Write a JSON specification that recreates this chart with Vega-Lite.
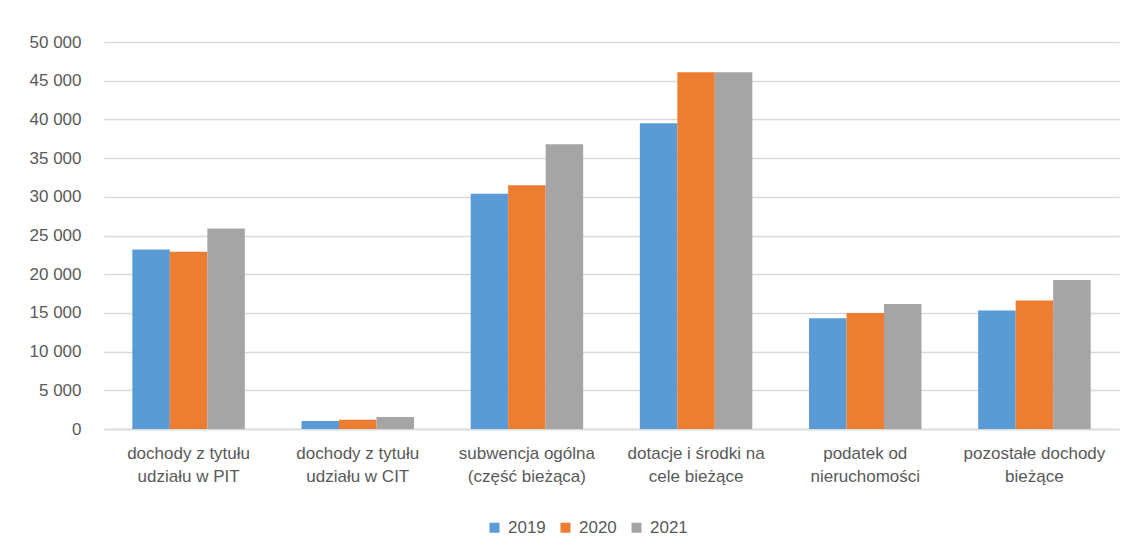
{
  "$schema": "https://vega.github.io/schema/vega-lite/v6.json",
  "width": 1015,
  "height": 387,
  "autosize": {"type": "none"},
  "padding": {"left": 104, "top": 42, "right": 16, "bottom": 127},
  "background": "white",
  "data": {
    "values": [
      {"kategoria": "dochody z tytułu|udziału w PIT", "rok": "2019", "wartosc": 23200},
      {"kategoria": "dochody z tytułu|udziału w PIT", "rok": "2020", "wartosc": 22900},
      {"kategoria": "dochody z tytułu|udziału w PIT", "rok": "2021", "wartosc": 25900},
      {"kategoria": "dochody z tytułu|udziału w CIT", "rok": "2019", "wartosc": 1030},
      {"kategoria": "dochody z tytułu|udziału w CIT", "rok": "2020", "wartosc": 1200},
      {"kategoria": "dochody z tytułu|udziału w CIT", "rok": "2021", "wartosc": 1550},
      {"kategoria": "subwencja ogólna|(część bieżąca)", "rok": "2019", "wartosc": 30400},
      {"kategoria": "subwencja ogólna|(część bieżąca)", "rok": "2020", "wartosc": 31500},
      {"kategoria": "subwencja ogólna|(część bieżąca)", "rok": "2021", "wartosc": 36800},
      {"kategoria": "dotacje i środki na|cele bieżące", "rok": "2019", "wartosc": 39500},
      {"kategoria": "dotacje i środki na|cele bieżące", "rok": "2020", "wartosc": 46100},
      {"kategoria": "dotacje i środki na|cele bieżące", "rok": "2021", "wartosc": 46100},
      {"kategoria": "podatek od|nieruchomości", "rok": "2019", "wartosc": 14300},
      {"kategoria": "podatek od|nieruchomości", "rok": "2020", "wartosc": 15000},
      {"kategoria": "podatek od|nieruchomości", "rok": "2021", "wartosc": 16150},
      {"kategoria": "pozostałe dochody|bieżące", "rok": "2019", "wartosc": 15300},
      {"kategoria": "pozostałe dochody|bieżące", "rok": "2020", "wartosc": 16600},
      {"kategoria": "pozostałe dochody|bieżące", "rok": "2021", "wartosc": 19250}
    ]
  },
  "mark": {"type": "bar"},
  "encoding": {
    "x": {
      "field": "kategoria",
      "type": "nominal",
      "sort": null,
      "scale": {"paddingInner": 0.335, "paddingOuter": 0.1675},
      "axis": {
        "title": null,
        "labelAngle": 0,
        "labelExpr": "split(datum.label, '|')",
        "labelFont": "Liberation Sans, Arial, sans-serif",
        "labelFontSize": 17,
        "labelColor": "#595959",
        "labelLineHeight": 23,
        "labelPadding": 16,
        "labelBaseline": "top",
        "ticks": false,
        "domainColor": "#d9d9d9",
        "domainWidth": 1.5,
        "labelLimit": 300
      }
    },
    "xOffset": {"field": "rok", "type": "nominal", "scale": {"paddingInner": 0, "paddingOuter": 0}},
    "y": {
      "field": "wartosc",
      "type": "quantitative",
      "scale": {"domain": [0, 50000], "nice": false},
      "axis": {
        "title": null,
        "values": [0, 5000, 10000, 15000, 20000, 25000, 30000, 35000, 40000, 45000, 50000],
        "labelExpr": "replace(format(datum.value, ','), ',', ' ')",
        "labelFont": "Liberation Sans, Arial, sans-serif",
        "labelFontSize": 17,
        "labelColor": "#595959",
        "labelPadding": 23,
        "domain": false,
        "ticks": false,
        "gridColor": "#d9d9d9",
        "gridWidth": 1.5
      }
    },
    "color": {
      "field": "rok",
      "type": "nominal",
      "scale": {"domain": ["2019", "2020", "2021"], "range": ["#5B9BD5", "#ED7D31", "#A5A5A5"]},
      "legend": {
        "title": null,
        "orient": "none",
        "direction": "horizontal",
        "legendX": 382,
        "legendY": 477,
        "symbolType": "square",
        "symbolSize": 100,
        "symbolStrokeWidth": 0,
        "labelFont": "Liberation Sans, Arial, sans-serif",
        "labelFontSize": 17,
        "labelColor": "#595959",
        "labelOffset": 5,
        "columnPadding": 11
      }
    }
  },
  "config": {
    "view": {"stroke": null}
  }
}
